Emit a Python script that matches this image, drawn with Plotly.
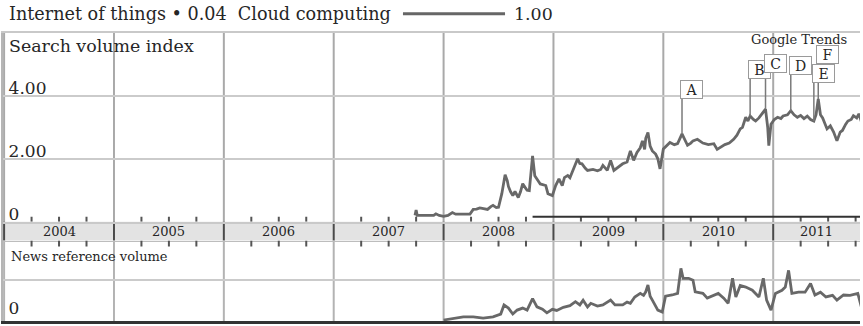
import numpy as np
import plotly.graph_objects as go

# Weekly search volume index for "Cloud computing" (decimal years)
cloud_t = [
    2007.74, 2007.75, 2007.76, 2007.79, 2007.85, 2007.91, 2007.93, 2007.96, 2008.00, 2008.04,
    2008.08, 2008.11, 2008.13, 2008.18, 2008.24, 2008.27, 2008.30, 2008.33, 2008.36, 2008.40,
    2008.43, 2008.45, 2008.48, 2008.50, 2008.53, 2008.56, 2008.58, 2008.59, 2008.61, 2008.63,
    2008.65, 2008.68, 2008.70, 2008.72, 2008.74, 2008.76, 2008.78, 2008.81, 2008.83, 2008.86,
    2008.88, 2008.93, 2008.95, 2008.99, 2009.02, 2009.05, 2009.08, 2009.10, 2009.13, 2009.15,
    2009.18, 2009.22, 2009.24, 2009.26, 2009.29, 2009.31, 2009.36, 2009.40, 2009.43, 2009.45,
    2009.49, 2009.52, 2009.55, 2009.58, 2009.63, 2009.67, 2009.70, 2009.73, 2009.76, 2009.79,
    2009.81, 2009.83, 2009.84, 2009.86, 2009.88, 2009.90, 2009.93, 2009.95, 2009.97, 2010.00,
    2010.03, 2010.06, 2010.10, 2010.13, 2010.17, 2010.20, 2010.22, 2010.25, 2010.27, 2010.31,
    2010.36, 2010.41, 2010.46, 2010.49, 2010.52, 2010.56, 2010.60, 2010.64, 2010.67, 2010.70,
    2010.72, 2010.75, 2010.77, 2010.79, 2010.82, 2010.84, 2010.87, 2010.90, 2010.93, 2010.95,
    2010.96, 2010.98, 2011.01, 2011.04, 2011.07, 2011.09, 2011.13, 2011.16, 2011.19, 2011.22,
    2011.25, 2011.28, 2011.31, 2011.34, 2011.37, 2011.39, 2011.41, 2011.43, 2011.45, 2011.49,
    2011.52, 2011.55, 2011.58, 2011.61, 2011.63, 2011.66, 2011.68, 2011.71, 2011.73, 2011.76,
    2011.78, 2011.81,
]
cloud_v = [
    0.20, 0.37, 0.20, 0.20, 0.18, 0.20, 0.25, 0.20, 0.17, 0.20,
    0.29, 0.24, 0.24, 0.24, 0.24, 0.39, 0.40, 0.44, 0.42, 0.39,
    0.48, 0.52, 0.45, 0.46, 0.89, 1.49, 1.30, 1.12, 0.95, 0.83,
    0.96, 0.77, 0.95, 1.21, 1.10, 1.00, 0.99, 2.09, 1.46, 1.30,
    1.20, 1.15, 0.89, 0.83, 1.15, 1.36, 1.15, 1.40, 1.47, 1.40,
    1.65, 2.00, 1.85, 1.84, 1.70, 1.63, 1.66, 1.62, 1.66, 1.79,
    1.63, 1.95, 1.63, 1.70, 1.84, 1.90, 2.25, 1.95, 2.20, 2.35,
    2.57, 2.30, 2.65, 2.84, 2.40, 2.25, 2.15, 2.00, 1.68, 2.31,
    2.40, 2.52, 2.45, 2.48, 2.79, 2.60, 2.43, 2.50, 2.57, 2.62,
    2.50, 2.45, 2.48, 2.30, 2.37, 2.45, 2.50, 2.62, 2.75, 2.95,
    3.00, 3.32, 3.20, 3.36, 3.25, 3.20, 3.30, 3.43, 3.58, 3.00,
    2.42, 3.10, 3.25, 3.32, 3.28, 3.36, 3.40, 3.53, 3.40, 3.32,
    3.38, 3.28, 3.36, 3.25, 3.20, 3.40, 3.90, 3.40, 3.30, 2.95,
    3.05, 2.85, 2.57, 2.85, 2.90, 3.10, 3.20, 3.25, 3.37, 3.30,
    3.43, 3.10,
]

# News reference volume (same time base)
news_t = [
    2008.00, 2008.06, 2008.18, 2008.27, 2008.36, 2008.45, 2008.49, 2008.52, 2008.55, 2008.59,
    2008.63, 2008.67, 2008.72, 2008.76, 2008.81, 2008.85, 2008.90, 2008.94, 2008.99, 2009.03,
    2009.09, 2009.15, 2009.20, 2009.24, 2009.27, 2009.31, 2009.34, 2009.40, 2009.45, 2009.52,
    2009.56, 2009.63, 2009.67, 2009.70, 2009.74, 2009.79, 2009.82, 2009.84, 2009.86, 2009.88,
    2009.90, 2009.95, 2009.99, 2010.02, 2010.08, 2010.13, 2010.16, 2010.18, 2010.23, 2010.27,
    2010.29, 2010.36, 2010.40, 2010.45, 2010.50, 2010.55, 2010.59, 2010.63, 2010.66, 2010.70,
    2010.75, 2010.81, 2010.87, 2010.91, 2010.94, 2010.98, 2011.02, 2011.08, 2011.11, 2011.14,
    2011.17, 2011.23, 2011.29, 2011.34, 2011.38, 2011.43, 2011.48, 2011.54, 2011.58, 2011.64,
    2011.70, 2011.77, 2011.81,
]
news_v = [
    0.00, 0.03, 0.08, 0.08, 0.05, 0.08, 0.13, 0.15, 0.38, 0.30,
    0.15, 0.25, 0.30, 0.25, 0.54, 0.33, 0.27, 0.18, 0.27, 0.24,
    0.32, 0.36, 0.46, 0.38, 0.50, 0.33, 0.42, 0.35, 0.38, 0.50,
    0.38, 0.38, 0.45, 0.42, 0.58, 0.67, 0.62, 0.71, 0.88, 0.60,
    0.50, 0.25, 0.20, 0.60, 0.63, 0.67, 1.30, 1.05, 1.05, 1.00,
    0.71, 0.67, 0.55, 0.60, 0.67, 0.55, 0.42, 1.05, 0.58, 0.87,
    0.83, 0.75, 0.58, 1.05, 0.50, 0.25, 0.67, 0.75, 0.83, 1.25,
    0.67, 0.70, 0.70, 0.92, 0.63, 0.70, 0.58, 0.62, 0.50, 0.63,
    0.62, 0.67, 0.25,
]

# News-event flags
flag_labels = ["A", "B", "C", "D", "E", "F"]
flag_dates = [2010.17, 2010.79, 2010.93, 2011.16, 2011.37, 2011.41]
flag_box_level = [4.21, 4.84, 5.03, 4.98, 4.70, 5.31]

years = [2004, 2005, 2006, 2007, 2008, 2009, 2010, 2011]
search_ticks = [0, 2, 4]
search_tick_text = ["0", "2.00", "4.00"]
news_ticks = [0, 1]
news_tick_text = ["0", ""]

legend_text = "Internet of things \u2022 0.04 \u00a0Cloud computing"
legend_value = "1.00"

X_RANGE = [2003.99, 2011.79]
SEARCH_RANGE = [0, 6]
NEWS_RANGE = [-0.025, 2.0]
ZOOM_START = 2008.81

SERIF = "DejaVu Serif"
INK = "#262626"
LINE = "#686868"
TICK = "#555555"

TOP_DOM = [0.34483, 1.0]
BAND_DOM = [0.27931, 0.34483]
BOT_DOM = [0.0, 0.27931]

# quarter ticks inside each year; year boundaries carry full gridlines
quarters = [y + q for y in years for q in (0.25, 0.5, 0.75) if y + q < X_RANGE[1]]
year_lines = [y for y in years if y > X_RANGE[0]]

fig = go.Figure()
fig.add_trace(go.Scatter(x=cloud_t, y=cloud_v, mode="lines", xaxis="x", yaxis="y",
                         line=dict(color=LINE, width=2.8), hoverinfo="skip"))
fig.add_trace(go.Scatter(x=news_t, y=news_v, mode="lines", xaxis="x3", yaxis="y3",
                         line=dict(color=LINE, width=2.8), hoverinfo="skip"))

base_x = dict(range=X_RANGE, showticklabels=False, zeroline=False, showgrid=False, ticks="")
tick_font = dict(family=SERIF, size=17, color=INK)

fig.update_layout(
    width=863, height=326,
    margin=dict(l=3, r=3, t=33, b=3),
    paper_bgcolor="white", plot_bgcolor="white",
    showlegend=False,
    xaxis=dict(**base_x, anchor="y", showline=True, mirror=True, linecolor="#c9c9c9", linewidth=2),
    xaxis2=dict(**base_x, anchor="y2", matches="x", showline=True, linecolor="#bdbdbd", linewidth=1),
    xaxis3=dict(**base_x, anchor="y3", matches="x", showline=True, linecolor="#333333", linewidth=3),
    yaxis=dict(domain=TOP_DOM, range=SEARCH_RANGE, tickvals=search_ticks, ticktext=search_tick_text,
               ticklabelposition="inside top", ticklabelshift=4, ticklabelstandoff=5,
               ticklabeloverflow="allow", tickfont=tick_font, ticks="",
               showgrid=True, gridcolor="#cbcbcb", gridwidth=2, zeroline=False,
               showline=True, linecolor="#b5b5b5", linewidth=2),
    yaxis2=dict(domain=BAND_DOM, range=[0, 1], showticklabels=False, showgrid=False,
                zeroline=False, ticks="", showline=True, linecolor="#b5b5b5", linewidth=2),
    yaxis3=dict(domain=BOT_DOM, range=NEWS_RANGE, tickvals=news_ticks, ticktext=news_tick_text,
                ticklabelposition="inside top", ticklabelstandoff=5,
                ticklabeloverflow="allow", tickfont=tick_font, ticks="",
                showgrid=True, gridcolor="#cbcbcb", gridwidth=2, zeroline=False,
                showline=True, linecolor="#b5b5b5", linewidth=2),
)

# Year band background
fig.add_shape(type="rect", xref="x2 domain", yref="y2 domain", x0=0, x1=1, y0=0, y1=1,
              fillcolor="#e3e3e3", line=dict(width=0), layer="below")

# Year gridlines in each panel (dark dividers in the band)
for yr in year_lines:
    for xr, yr_ref, col in (("x", "y domain", "#a9a9a9"),
                            ("x2", "y2 domain", "#4a4a4a"),
                            ("x3", "y3 domain", "#b3b3b3")):
        fig.add_shape(type="line", xref=xr, yref=yr_ref, x0=yr, x1=yr, y0=0, y1=1,
                      line=dict(color=col, width=2), layer="below")

# Quarter ticks: upward above the band, downward below it (5-6 px long)
for q in quarters:
    fig.add_shape(type="line", xref="x", yref="y", ysizemode="pixel", yanchor=SEARCH_RANGE[0],
                  x0=q, x1=q, y0=0, y1=5, line=dict(color=TICK, width=2))
    fig.add_shape(type="line", xref="x3", yref="y3", ysizemode="pixel", yanchor=NEWS_RANGE[1],
                  x0=q, x1=q, y0=-6, y1=0, line=dict(color=TICK, width=2))

# Year labels, centred on the visible part of each year
for yr in years:
    lo = max(yr, X_RANGE[0])
    hi = min(yr + 1, X_RANGE[1])
    fig.add_annotation(x=(lo + hi) / 2, y=0.5, xref="x2", yref="y2", text=str(yr),
                       showarrow=False, font=dict(family=SERIF, size=13, color=INK))

# Selected-range bar along the bottom of the search panel
fig.add_shape(type="line", xref="x", yref="y", x0=ZOOM_START, x1=X_RANGE[1], y0=0.16, y1=0.16,
              line=dict(color="#333333", width=2))

# Event flags: stem from the series up to a lettered box
for lab, t, lvl in zip(flag_labels, flag_dates, flag_box_level):
    v = float(np.interp(t, cloud_t, cloud_v))
    fig.add_shape(type="line", xref="x", yref="y", x0=t, x1=t, y0=v, y1=lvl - 0.25,
                  line=dict(color="#7a7a7a", width=1.5))
for lab, t, lvl in zip(flag_labels, flag_dates, flag_box_level):
    fig.add_annotation(x=t, y=lvl, xref="x", yref="y", text=lab, showarrow=False,
                       xanchor="left", yanchor="middle", xshift=-2,
                       width=17, height=13, borderpad=2, bgcolor="white",
                       bordercolor="#9a9a9a", borderwidth=1,
                       font=dict(family=SERIF, size=14, color=INK))

# Panel titles
fig.add_annotation(x=0, y=1, xref="x domain", yref="y domain", text="Search volume index",
                   showarrow=False, xanchor="left", yanchor="top", xshift=4, yshift=-1,
                   font=dict(family=SERIF, size=17.4, color=INK))
fig.add_annotation(x=0.9288, y=1, xref="x domain", yref="y domain", text="Google Trends",
                   showarrow=False, xanchor="center", yanchor="middle", yshift=-6,
                   font=dict(family=SERIF, size=13, color=INK))
fig.add_annotation(x=0, y=1, xref="x3 domain", yref="y3 domain", text="News reference volume",
                   showarrow=False, xanchor="left", yanchor="middle", xshift=6, yshift=-16,
                   font=dict(family=SERIF, size=13, color=INK))

# Legend row above the chart
fig.add_annotation(x=0.0047, y=1.0655, xref="paper", yref="paper", text=legend_text,
                   showarrow=False, xanchor="left", yanchor="middle",
                   font=dict(family=SERIF, size=17.6, color=INK))
fig.add_shape(type="line", xref="paper", yref="paper", x0=0.4667, x1=0.5858, y0=1.0672, y1=1.0672,
              line=dict(color="#666666", width=3))
fig.add_annotation(x=0.594, y=1.0655, xref="paper", yref="paper", text=legend_value,
                   showarrow=False, xanchor="left", yanchor="middle",
                   font=dict(family=SERIF, size=17.4, color=INK))

fig.write_html("out.html")
